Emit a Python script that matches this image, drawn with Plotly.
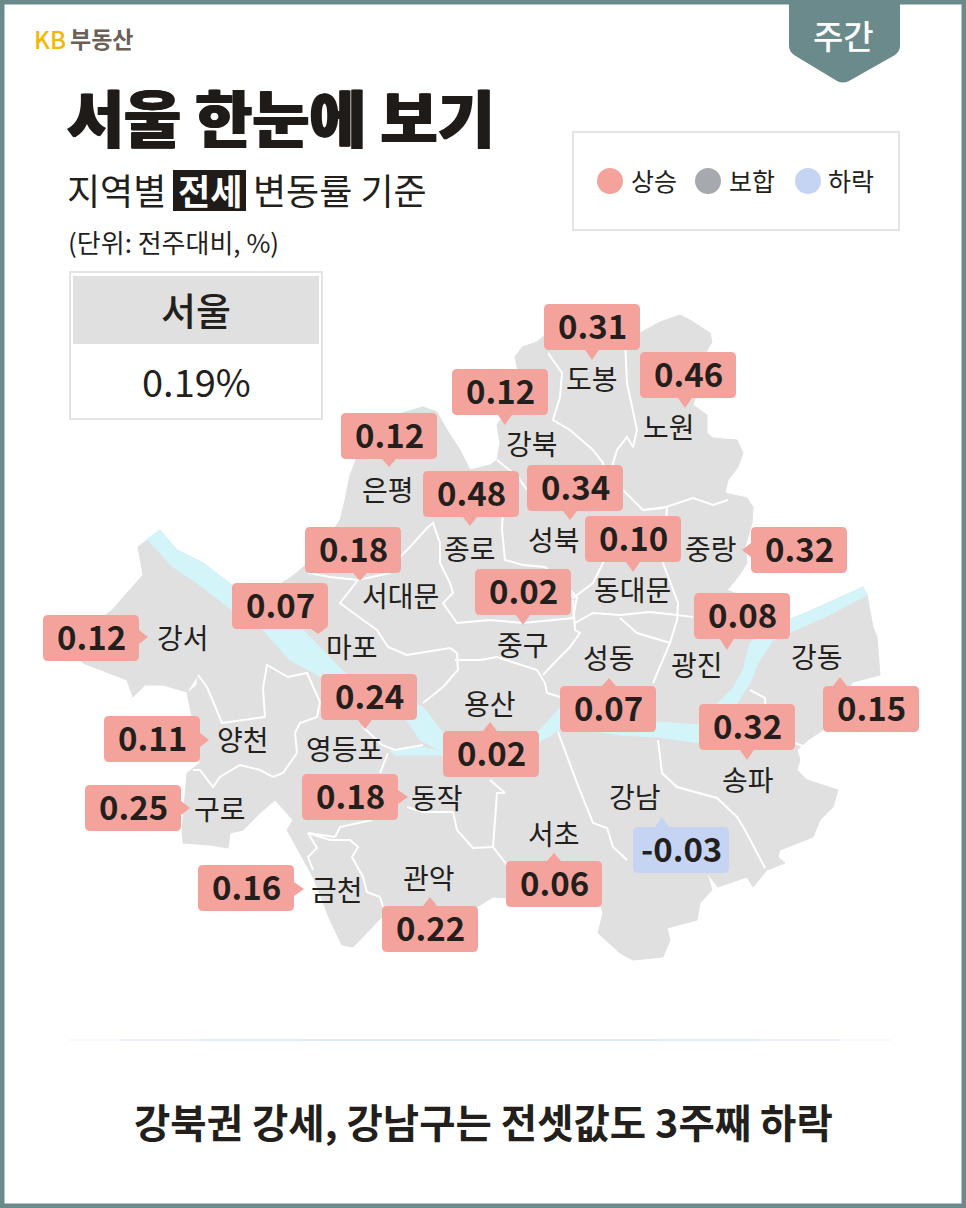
import plotly.graph_objects as go

# ---------- data ----------
districts = ["강서","양천","구로","금천","관악","동작","영등포","마포","서대문","은평","종로","강북","도봉","노원","성북","동대문","중랑","중구","성동","광진","강동","용산","송파","강남","서초"]
changes = [0.12,0.11,0.25,0.16,0.22,0.18,0.24,0.07,0.18,0.12,0.48,0.12,0.31,0.46,0.34,0.10,0.32,0.02,0.07,0.08,0.15,0.02,0.32,-0.03,0.06]
seoul_change = 0.19
legend_labels = ["상승","보합","하락"]

# ---------- placement on the map (pixel space of the map axes) ----------
box_xy = [(91,638),(152,739),(133,808),(246,888),(430,929),(350,797),(369,697),(280,606),(353,550),(389,436),(471,494),(500,392),(592,327),(688,375),(575,488),(633,539),(799,550),(523,592),(608,709),(742,616),(871,709),(491,754),(747,727),(681,850),(554,884)]
name_xy = [(183,638),(243,740),(220,809),(337,890),(429,878),(437,798),(344,749),(352,647),(400,596),(388,490),(470,549),(532,444),(592,379),(669,427),(554,540),(632,590),(711,549),(523,645),(609,658),(697,665),(817,657),(490,704),(748,780),(635,797),(554,834)]
tip_xy = [(148,637),(209,740),(190,808),(304,889),(430,897),(408,797),(365,729),(318,634),(360,581),(389,467),(470,526),(505,425),(592,360),(685,408),(570,520),(633,572),(742,550),(523,625),(609,678),(727,650),(840,677),(490,722),(747,760),(662,817),(554,853)]

outline = [(147,540),(160,530),(177,550),(203,563),(232,585),(270,590),(290,578),(300,570),(320,550),(340,520),(345,500),(350,475),(358,455),(395,415),(423,407),(437,412),(447,430),(460,450),(470,470),(490,465),(497,460),(500,443),(497,425),(507,410),(518,372),(515,357),(522,347),(537,342),(545,335),(590,320),(640,333),(660,322),(680,315),(690,320),(710,333),(712,342),(707,350),(700,385),(693,405),(707,415),(707,433),(713,438),(737,440),(743,453),(738,467),(728,480),(725,493),(747,498),(753,507),(752,523),(745,547),(747,563),(738,577),(727,590),(745,597),(790,620),(863,587),(867,595),(873,627),(877,637),(880,675),(853,682),(840,700),(823,730),(808,740),(797,750),(800,760),(797,770),(807,780),(838,790),(833,807),(820,820),(813,837),(780,850),(778,857),(785,863),(767,870),(753,887),(747,877),(718,887),(707,873),(712,890),(700,903),(697,920),(667,928),(670,940),(663,957),(633,960),(620,953),(598,933),(603,913),(600,903),(540,900),(493,897),(477,907),(440,940),(382,917),(353,947),(342,945),(330,920),(313,877),(287,830),(293,820),(287,813),(275,800),(260,813),(243,830),(230,833),(228,848),(210,845),(183,843),(182,830),(187,773),(200,763),(195,730),(187,693),(197,685),(198,675),(187,692),(163,685),(145,685),(133,697),(127,680),(83,663),(75,640),(112,610),(130,590),(143,575),(138,547)]
river = [(147,539),(160,530),(177,550),(203,563),(232,585),(263,602),(303,630),(323,650),(345,673),(385,692),(423,707),(433,720),(443,733),(490,745),(538,732),(560,708),(600,715),(657,722),(700,725),(718,703),(733,688),(743,670),(750,643),(775,625),(820,607),(863,587),(867,595),(825,617),(773,640),(758,663),(750,683),(737,703),(725,743),(700,743),(657,737),(620,735),(600,732),(560,730),(537,743),(490,760),(443,752),(420,740),(407,720),(370,700),(345,690),(312,672),(290,660),(263,630),(232,610),(197,583),(173,567)]
river_branch = [(390,751),(423,747),(443,752),(443,755),(395,755)]
borders = [
 [(308,573),(330,577),(358,580),(340,603),(363,620),(377,630),(388,647),(407,655),(450,648),(457,653),(458,670),(443,687),(423,703)],
 [(358,580),(390,573),(400,557),(410,547),(427,528),(433,523),(440,543),(440,563),(450,583),(453,593),(443,603),(457,623),(490,620),(523,623),(573,618),(577,597),(570,590)],
 [(503,510),(502,530),(505,560),(523,565),(545,567),(570,590),(573,598),(593,583),(603,563),(605,540)],
 [(497,460),(518,477),(527,490)],
 [(527,490),(552,475),(575,470)],
 [(548,353),(562,373),(560,397),(553,420),(570,430),(593,450),(603,463),(606,480)],
 [(625,340),(627,383),(637,430),(633,447),(627,437),(617,450),(613,463),(610,480)],
 [(610,480),(623,490),(643,510),(663,508),(693,498),(713,505),(728,500)],
 [(643,510),(667,507),(663,563),(668,577),(678,603),(677,620),(670,643)],
 [(575,623),(593,613),(620,615),(650,612),(677,615),(693,617)],
 [(573,600),(575,630),(580,633),(570,647),(557,660),(543,675)],
 [(620,618),(637,633),(670,643),(653,683)],
 [(455,660),(480,660),(497,657),(537,670),(545,683),(547,693),(560,697)],
 [(558,732),(577,783),(593,823),(607,828),(613,847),(627,860)],
 [(658,740),(662,773),(677,787),(717,798),(737,817),(745,830),(765,868)],
 [(750,690),(765,698),(766,715)],
 [(795,743),(808,748)],
 [(490,780),(505,793),(497,793),(493,847),(507,865)],
 [(453,812),(457,830),(473,848),(493,847)],
 [(407,807),(423,812),(453,812)],
 [(335,837),(340,827),(372,820)],
 [(380,773),(388,753)],
 [(363,727),(382,745),(395,750),(423,745)],
 [(297,753),(283,773),(273,777),(260,770),(240,765),(220,777),(213,787),(200,770),(193,770)],
 [(297,753),(295,733),(300,723),(317,717),(320,702),(307,673),(288,677),(267,665),(263,688),(265,717),(222,723),(212,700),(207,687),(198,675)],
 [(308,833),(335,837)],
 [(308,833),(317,848),(308,857),(313,870)],
 [(308,833),(330,840),(350,840),(358,847),(352,857),(363,877),(367,892),(380,897),(383,907)],
]

# ---------- styles ----------
FONT = "Noto Sans CJK KR"
INK = "#231f1c"
RED, GREY, BLUE = "#F4A39C", "#A6A9AE", "#C4D4F2"
RIM = "#6B8A8C"
LAND, WATER = "#E0E0E0", "#D3F5FA"
BOX_W, BOX_H, R = 96, 46, 5

def xs(p): return [a for a, _ in p]
def ys(p): return [b for _, b in p]

fig = go.Figure()
fig.add_trace(go.Scatter(x=xs(outline)+[outline[0][0]], y=ys(outline)+[outline[0][1]], mode="lines", fill="toself",
                         fillcolor=LAND, line=dict(color=LAND, width=1), hoverinfo="skip", showlegend=False))
for water in (river, river_branch):
    fig.add_trace(go.Scatter(x=xs(water)+[water[0][0]], y=ys(water)+[water[0][1]], mode="lines", fill="toself",
                             fillcolor=WATER, line=dict(color=WATER, width=1), hoverinfo="skip", showlegend=False))
for b in borders:
    fig.add_trace(go.Scatter(x=xs(b), y=ys(b), mode="lines", line=dict(color="white", width=2),
                             hoverinfo="skip", showlegend=False))

shapes, notes = [], []

def text(x, y, s, size, color=INK, weight=400, anchor="center", family=FONT, shadow=None):
    f = dict(family=family, size=size, color=color, weight=weight)
    if shadow:
        f["shadow"] = shadow
    notes.append(dict(x=x, y=y, text=s, showarrow=False, xanchor=anchor, yanchor="middle", font=f))

def rounded(x0, y0, x1, y1, r):
    return (f"M{x0+r},{y0} L{x1-r},{y0} Q{x1},{y0} {x1},{y0+r} L{x1},{y1-r} Q{x1},{y1} {x1-r},{y1} "
            f"L{x0+r},{y1} Q{x0},{y1} {x0},{y1-r} L{x0},{y0+r} Q{x0},{y0} {x0+r},{y0} Z")

for name, v, (bx, by), (nx, ny), (tx, ty) in zip(districts, changes, box_xy, name_xy, tip_xy):
    col = RED if v > 0 else (GREY if v == 0 else BLUE)
    x0, x1, y0, y1 = bx-BOX_W/2, bx+BOX_W/2, by-BOX_H/2, by+BOX_H/2
    shapes.append(dict(type="path", path=rounded(x0, y0, x1, y1, R), fillcolor=col, line_width=0, layer="above"))
    if tx > x1 or tx < x0:
        ex = x1 if tx > x1 else x0
        cy = min(max(ty, y0+8), y1-8)
        tri = f"M{ex},{cy-7} L{tx},{ty} L{ex},{cy+7} Z"
    else:
        ey = y1 if ty > y1 else y0
        cx = min(max(tx, x0+8), x1-8)
        tri = f"M{cx-7},{ey} L{tx},{ty} L{cx+7},{ey} Z"
    shapes.append(dict(type="path", path=tri, fillcolor=col, line_width=0, layer="above"))
    text(bx, by-2, f"{v:.2f}", 33, weight=700)
    text(nx, ny-1, name, 28, weight=400)

# frame, tab
shapes.append(dict(type="rect", x0=0, y0=0, x1=966, y1=1208, line=dict(color=RIM, width=9), fillcolor="rgba(0,0,0,0)", layer="above"))
shapes.append(dict(type="path", path="M789,0 L789,46 Q789,51 794,55 L837,81 Q843,84 849,81 L895,55 Q900,51 900,46 L900,0 Z",
                   fillcolor=RIM, line_width=0, layer="above"))
text(843, 35, "주간", 33, "white", 500)

# header
text(32, 38, "KB", 24, "#F5B800", 500, "left")
text(68, 38, "부동산", 23, "#6B5F56", 700, "left")
HEAVY = "1px 0 0 #1f1b18, -1px 0 0 #1f1b18"
text(65, 116, "서울 한눈에 보기", 62, "#1f1b18", 900, "left", shadow=HEAVY)
text(65, 189, "지역별", 36, INK, 400, "left")
shapes.append(dict(type="rect", x0=173, y0=170, x1=246, y1=211, fillcolor="#1f1b18", line_width=0, layer="above"))
text(209.5, 189, "전세", 35, "white", 700)
text(251, 189, "변동률 기준", 36, INK, 400, "left")
text(66, 241, "(단위: 전주대비, %)", 26, INK, 400, "left")

# Seoul box
shapes.append(dict(type="rect", x0=70, y0=272, x1=322, y1=419, line=dict(color="#E4E4E4", width=2), fillcolor="white", layer="above"))
shapes.append(dict(type="rect", x0=73, y0=276, x1=319, y1=344, fillcolor=LAND, line_width=0, layer="above"))
text(196, 308, "서울", 38, INK, 500)
text(196, 380, f"{seoul_change:.2f}%", 38, INK, 400)

# legend
shapes.append(dict(type="rect", x0=573, y0=132, x1=899, y1=230, line=dict(color="#E4E4E4", width=2), fillcolor="white", layer="above"))
for (lx, tx_, c), lab in zip([(610, 654, RED), (708, 752, GREY), (808, 851, BLUE)], legend_labels):
    shapes.append(dict(type="circle", x0=lx-13, x1=lx+13, y0=168, y1=194, fillcolor=c, line_width=0, layer="above"))
    text(tx_, 180, lab, 25, INK, 400)

# fading divider + footer
for x0, x1, op in [(70,890,0.25),(120,840,0.35),(200,760,0.4),(300,660,0.4)]:
    shapes.append(dict(type="line", x0=x0, x1=x1, y0=1040, y1=1040, line=dict(color="#DCE6F6", width=2), opacity=op, layer="above"))
text(483, 1120, "강북권 강세, 강남구는 전셋값도 3주째 하락", 39.5, INK, 700)

fig.update_layout(width=966, height=1208, margin=dict(l=0, r=0, t=0, b=0), paper_bgcolor="white", plot_bgcolor="white",
                  showlegend=False, shapes=shapes, annotations=notes,
                  xaxis=dict(range=[0, 966], visible=False, fixedrange=True),
                  yaxis=dict(range=[1208, 0], visible=False, fixedrange=True))
fig.write_html("out.html", config=dict(displayModeBar=False, responsive=False),
               post_script="document.body.style.margin='0';document.body.style.overflow='hidden';")
